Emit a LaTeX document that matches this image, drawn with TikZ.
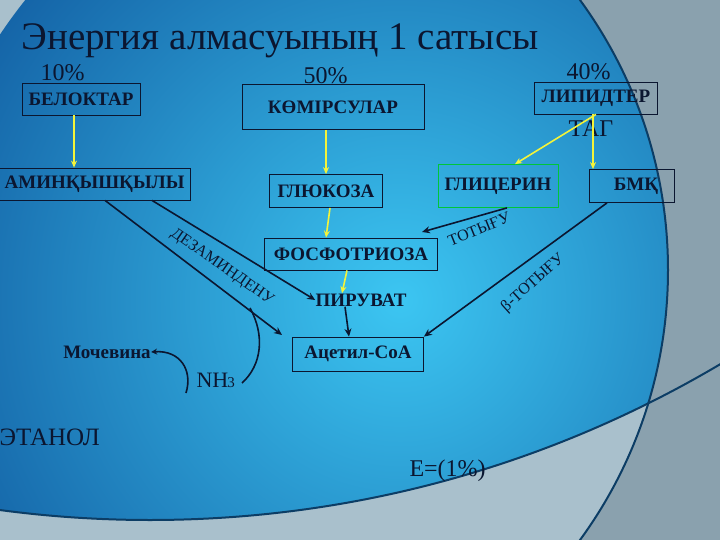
\documentclass[tikz,border=0pt]{standalone}
\usepackage{fontspec}
\setmainfont{Liberation Serif}
\usetikzlibrary{arrows.meta}
\definecolor{ink}{HTML}{0B1630}
\definecolor{outer}{HTML}{8AA1AE}
\definecolor{lower}{HTML}{A9C0CC}
\definecolor{edgeb}{HTML}{1565A8}
\definecolor{cen}{HTML}{3CC6F2}
\definecolor{yel}{HTML}{F4F43A}
\tikzset{
 box/.style={draw=ink,line width=0.8pt,inner sep=0pt,font=\fontsize{19}{19}\selectfont\bfseries,text=ink},
 lbl/.style={font=\fontsize{24}{24}\selectfont,text=ink},
 yarrow/.style={draw=yel,line width=1.6pt,-{Stealth[length=7pt,width=6pt]}},
 darrow/.style={draw=ink,line width=1.6pt,-{Stealth[length=8pt,width=7pt]}},
 rot/.style={font=\fontsize{16}{16}\selectfont,text=ink}
}
\begin{document}
\begin{tikzpicture}[x=1pt,y=-1pt]
\useasboundingbox (0,0) rectangle (720,540);
\fill[outer] (0,0) rectangle (720,540);
\begin{scope}
\clip (210,270) circle (458);
\fill[lower] (0,0) rectangle (720,540);
\end{scope}
\begin{scope}
\clip (150,-600) circle (1120);
\clip (210,270) circle (458);
\shade[inner color=cen,outer color=edgeb] (400,300) circle (480);
\end{scope}
\begin{scope}
\clip (0,0) rectangle (720,540);
\draw[edgeb!60!black,line width=2pt] (150,-600) circle (1120);
\draw[edgeb!60!black,line width=2pt] (210,270) circle (458);
\end{scope}

\node[lbl,font=\fontsize{39}{39}\selectfont,anchor=base west] (title) at (18,50) {Энергия алмасуының 1 сатысы};
\node[lbl,anchor=base west] (p10) at (37,81) {10\%};
\node[lbl,anchor=base west] (p50) at (300,84) {50\%};
\node[lbl,anchor=base west] (p40) at (563,80) {40\%};

\node[box,minimum width=118,minimum height=32] (bel) at (81,99) {БЕЛОКТАР};
\node[box,minimum width=182,minimum height=45] (kom) at (333,107) {КӨМІРСУЛАР};
\node[box,minimum width=123,minimum height=32] (lip) at (596,98) {ЛИПИДТЕР};
\node[lbl,anchor=base] (tag) at (591,137) {ТАГ};
\node[box,minimum width=192,minimum height=32,anchor=east] (amin) at (191,184) {АМИНҚЫШҚЫЛЫ};
\node[box,minimum width=113,minimum height=33] (glu) at (326,191) {ГЛЮКОЗА};
\node[box,draw=green!55!teal,minimum width=120,minimum height=43] (gli) at (498,186) {ГЛИЦЕРИН};
\node[box,minimum width=85,minimum height=33] (bmk) at (632,186) {\hspace*{8pt}БМҚ};
\node[box,minimum width=173,minimum height=32] (fos) at (351,254) {ФОСФОТРИОЗА};
\node[box,draw=none] (pir) at (361,300) {ПИРУВАТ};
\node[box,minimum width=131,minimum height=34] (ace) at (358,354) {Ацетил-СоА};
\node[box,draw=none] (moc) at (107,352) {Мочевина};
\node[lbl,font=\fontsize{22}{22}\selectfont,anchor=base west] (nh3) at (193,387) {NH\kern-1pt{\fontsize{15}{15}\selectfont 3}};
\node[lbl,font=\fontsize{25}{25}\selectfont,anchor=base west] (eta) at (-4,445) {ЭТАНОЛ};
\node[lbl,anchor=base west] (e1) at (406,476) {Е=(1\%)};

\draw[yarrow] (bel.south -| 74,0) -- (amin.north -| 74,0);
\draw[yarrow] (kom.south -| 326,0) -- (glu.north -| 326,0);
\draw[yarrow] (glu.south -| 330,0) -- (fos.north -| 326,0);
\draw[yarrow] (fos.south -| 347,0) -- (pir.north -| 342,0);
\draw[yarrow] (lip.south -| 596,0) -- (gli.north -| 515,0);
\draw[yarrow] (lip.south -| 593,0) -- (bmk.north -| 593,0);

\coordinate (a1) at (282,335);
\coordinate (f1) at (422,232);
\draw[darrow] (amin.south -| 105,0) -- (a1);
\draw[darrow] (amin.south -| 152,0) -- (pir.west);
\draw[darrow] (gli.south -| 507,0) -- (f1);
\draw[darrow] (bmk.south -| 607,0) -- (ace.north east);
\draw[darrow] (pir.south -| 345,0) -- (ace.north -| 349,0);
\coordinate (c1) at (250,308);
\coordinate (c2) at (242,383);
\draw[ink,line width=1.6pt] (c1) .. controls (265,335) and (262,365) .. (c2);
\draw[ink,line width=1.6pt,-{Stealth[length=6pt,width=6pt]}] (186,393) .. controls (193,370) and (180,350) .. (moc.east);

\node[rot,rotate=-35] (dez) at (222,267) {ДЕЗАМИНДЕНУ};
\node[rot,rotate=22] (tot) at (479,229) {ТОТЫҒУ};
\node[rot,rotate=42] (btot) at (533,283) {β-ТОТЫҒУ};
\end{tikzpicture}
\end{document}
